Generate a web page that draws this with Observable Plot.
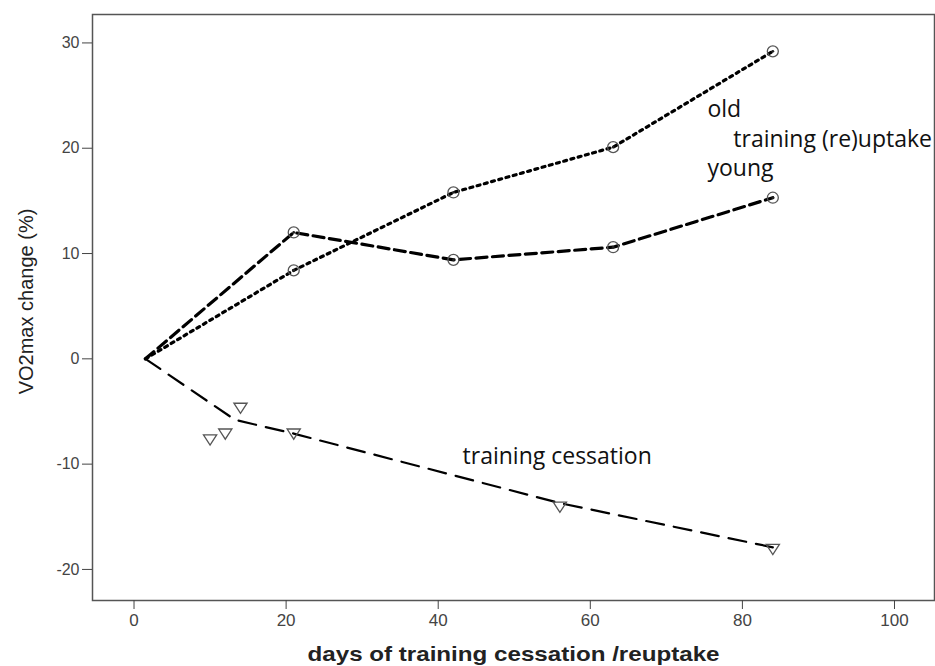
<!DOCTYPE html>
<html>
<head>
<meta charset="utf-8">
<script src="https://cdn.jsdelivr.net/npm/d3@7"></script>
<script src="https://cdn.jsdelivr.net/npm/@observablehq/plot@0.6"></script>
<style>
  html, body { margin: 0; padding: 0; background: #fff; }
  #chart svg { display: block; }
</style>
</head>
<body>
<div id="chart"></div>
<script>
// ---- data ----
const trainDays   = [1.5, 21, 42, 63, 84];
const youngChange = [0, 12.0, 9.4, 10.6, 15.3];
const oldChange   = [0, 8.4, 15.8, 20.1, 29.2];

const cessDays    = [10, 12, 14, 21, 56, 84];
const cessChange  = [-7.7, -7.15, -4.7, -7.15, -14.1, -18.1];

const fitDays     = [1.5, 13.3, 21, 56, 84];
const fitChange   = [0, -5.8, -7.1, -13.7, -17.9];

const xTicks = [0, 20, 40, 60, 80, 100];
const yTicks = [-20, -10, 0, 10, 20, 30];

const xTitle = "days of training cessation /reuptake";
const yTitle = "VO2max change (%)";

const annotations = [
  {text: "old", day: 75.4, value: 23.0},
  {text: "training (re)uptake", day: 78.8, value: 20.1},
  {text: "young", day: 75.4, value: 17.4},
  {text: "training cessation", day: 43.2, value: -10.0}
];

// ---- tables ----
const trainRows = trainDays.map((d, i) => ({day: d, young: youngChange[i], old: oldChange[i]}));
const markerRows = trainRows.filter(r => r.day > 5);
const cessRows = cessDays.map((d, i) => ({day: d, value: cessChange[i]}));
const fitRows = fitDays.map((d, i) => ({day: d, value: fitChange[i]}));

const triangleDown = {
  draw(context, size) {
    const r = Math.sqrt(size / Math.PI);
    const w = 1.1 * r, h = 0.85 * r;
    context.moveTo(-w, -h);
    context.lineTo(w, -h);
    context.lineTo(0, h);
    context.closePath();
  }
};

const chart = Plot.plot({
  width: 935,
  height: 666,
  marginLeft: 92,
  marginRight: 1,
  marginTop: 14,
  marginBottom: 66,
  style: {fontFamily: "'Liberation Sans', Arial, sans-serif", background: "#fff", color: "#222"},
  x: {domain: [-5.46, 105.26]},
  y: {domain: [-22.95, 32.7]},
  marks: [
    Plot.frame({stroke: "#555", strokeWidth: 1.5}),
    Plot.line(trainRows, {x: "day", y: "old", stroke: "#000", strokeWidth: 3.2, strokeDasharray: "3,4.5"}),
    Plot.line(trainRows, {x: "day", y: "young", stroke: "#000", strokeWidth: 3.2, strokeDasharray: "11,5.5"}),
    Plot.line(fitRows, {x: "day", y: "value", stroke: "#000", strokeWidth: 2.2, strokeDasharray: "18,10"}),
    Plot.dot(markerRows, {x: "day", y: "old", r: 5.5, stroke: "#555", strokeWidth: 1.3, fill: "none"}),
    Plot.dot(markerRows, {x: "day", y: "young", r: 5.5, stroke: "#555", strokeWidth: 1.3, fill: "none"}),
    Plot.dot(markerRows, {x: "day", y: "old", r: 1.4, fill: "#222"}),
    Plot.dot(markerRows, {x: "day", y: "young", r: 1.4, fill: "#222"}),
    Plot.dot(cessRows, {x: "day", y: "value", r: 6, symbol: triangleDown, stroke: "#555", strokeWidth: 1.3, fill: "none"}),
    Plot.text(annotations, {x: "day", y: "value", text: "text", textAnchor: "start", lineAnchor: "bottom",
      fontFamily: "'Open Sans', sans-serif", fontSize: 23, fill: "#111"}),
    Plot.axisX({ticks: xTicks, tickFormat: d => String(d), tickSize: 9, tickPadding: 4, fontSize: 17, color: "#444", label: null}),
    Plot.axisY({ticks: yTicks, tickFormat: d => String(d), tickSize: 10, tickPadding: 3, fontSize: 16, color: "#444", label: null}),
    Plot.text([xTitle], {frameAnchor: "bottom", textAnchor: "middle", dy: 60, lineAnchor: "bottom", fontSize: 21, fontWeight: "bold", fill: "#222"}),
    Plot.text([yTitle], {frameAnchor: "left", textAnchor: "middle", dx: -66, dy: -6, rotate: -90, lineAnchor: "middle", fontSize: 20, fill: "#222"})
  ]
});

d3.select(chart).selectAll("text")
  .filter(function() { return this.textContent === xTitle; })
  .attr("textLength", 412)
  .attr("lengthAdjust", "spacingAndGlyphs");

document.getElementById("chart").appendChild(chart);
</script>
</body>
</html>
